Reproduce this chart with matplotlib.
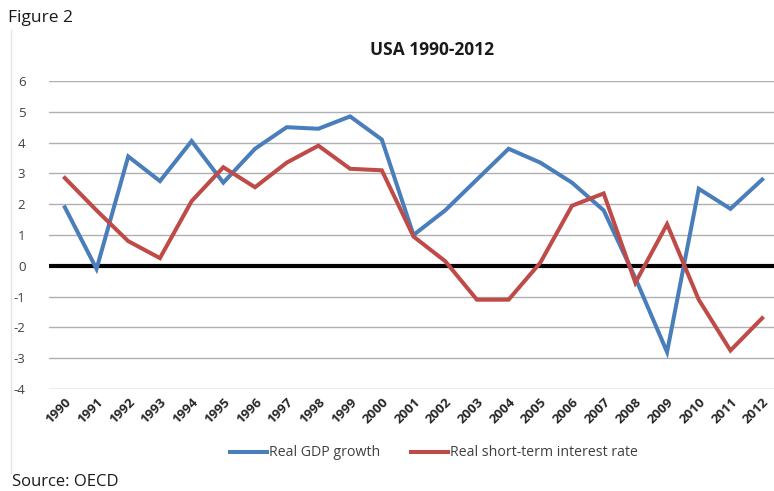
import matplotlib
matplotlib.use("Agg")
import matplotlib.pyplot as plt
from matplotlib.lines import Line2D

years = [str(y) for y in range(1990, 2013)]
gdp_growth = [1.9, -0.1, 3.55, 2.75, 4.05, 2.7, 3.8, 4.5, 4.45, 4.85, 4.1,
              1.0, 1.8, 2.8, 3.8, 3.35, 2.7, 1.8, -0.4, -2.8, 2.5, 1.85, 2.8]
real_rate = [2.85, 1.8, 0.8, 0.25, 2.1, 3.2, 2.55, 3.35, 3.9, 3.15, 3.1,
             0.95, 0.15, -1.1, -1.1, 0.1, 1.95, 2.35, -0.55, 1.35, -1.1, -2.75, -1.7]
y_ticks = list(range(-4, 7))

BLUE = "#4A7EBB"
RED = "#BE4B48"
FONT = ["Open Sans", "DejaVu Sans"]

plt.rcParams["font.family"] = FONT

fig = plt.figure(figsize=(7.74, 4.91), dpi=100)
ax = fig.add_axes([49 / 774, 1 - 389 / 491, 729 / 774, 308 / 491])

x = list(range(len(years)))
ax.plot(x, gdp_growth, color=BLUE, lw=2.9, solid_joinstyle="miter",
        label="Real GDP growth", zorder=4)
ax.plot(x, real_rate, color=RED, lw=2.9, solid_joinstyle="miter",
        label="Real short-term interest rate", zorder=4)

ax.set_xlim(-0.5, len(years) - 0.5)
ax.set_ylim(-4, 6)
ax.set_yticks(y_ticks)
ax.set_yticklabels([str(v) for v in y_ticks], fontsize=9.5, color="#404040")
ax.yaxis.grid(True, color="#B0B0B0", lw=1.0)
ax.axhline(0, color="black", lw=3.0, zorder=3)
ax.set_axisbelow(True)

ax.set_xticks(x)
ax.set_xticklabels(years, rotation=45, ha="right", va="top", rotation_mode="anchor",
                   fontsize=9.5, fontweight="bold", color="#262626")
ax.tick_params(axis="both", length=0)
ax.tick_params(axis="x", pad=5)
ax.tick_params(axis="y", pad=17)
for s in ax.spines.values():
    s.set_visible(False)

fig.text(432 / 774, 1 - 50 / 491, "USA 1990-2012", fontsize=12.5, fontweight="bold",
         color="#1a1a1a", ha="center", va="center")

leg = fig.legend(loc="center", bbox_to_anchor=(434 / 774, 1 - 453 / 491), ncol=2,
                 frameon=False, fontsize=10.2, handlelength=2.6, handletextpad=0.15,
                 columnspacing=2.2)
for t in leg.get_texts():
    t.set_color("#404040")

fig.text(8 / 774, 1 - 18 / 491, "Figure 2", fontsize=12.5, va="center", ha="left",
         color="#1a1a1a")
fig.text(12 / 774, 1 / 491, "Source: OECD", fontsize=12, va="bottom", ha="left",
         color="#1a1a1a")

fig.add_artist(Line2D([11 / 774, 11 / 774], [1 - 30 / 491, 1 - 473 / 491],
                      transform=fig.transFigure, color="#E4E4E4", lw=1.0))

fig.savefig("out.png", dpi=100, facecolor="white")
